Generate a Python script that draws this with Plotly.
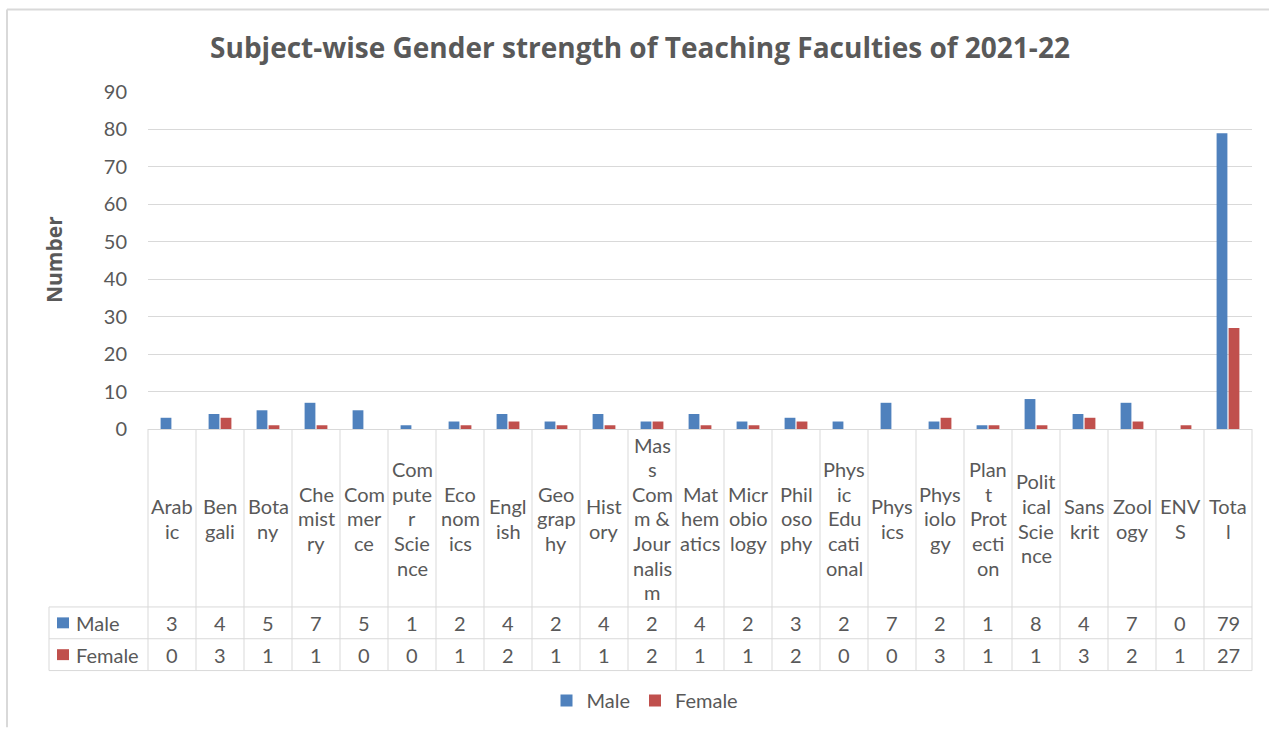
import plotly.graph_objects as go

categories = ["Arabic", "Bengali", "Botany", "Chemistry", "Commerce", "Computer Science",
              "Economics", "English", "Geography", "History", "Mass Comm & Journalism",
              "Mathematics", "Microbiology", "Philosophy", "Physic Educational", "Physics",
              "Physiology", "Plant Protection", "Political Science", "Sanskrit", "Zoology",
              "ENVS", "Total"]
wrapped_labels = [
    ["Arab", "ic"], ["Ben", "gali"], ["Bota", "ny"], ["Che", "mist", "ry"],
    ["Com", "mer", "ce"], ["Com", "pute", "r", "Scie", "nce"], ["Eco", "nom", "ics"],
    ["Engl", "ish"], ["Geo", "grap", "hy"], ["Hist", "ory"],
    ["Mas", "s", "Com", "m &", "Jour", "nalis", "m"], ["Mat", "hem", "atics"],
    ["Micr", "obio", "logy"], ["Phil", "oso", "phy"], ["Phys", "ic", "Edu", "cati", "onal"],
    ["Phys", "ics"], ["Phys", "iolo", "gy"], ["Plan", "t", "Prot", "ecti", "on"],
    ["Polit", "ical", "Scie", "nce"], ["Sans", "krit"], ["Zool", "ogy"], ["ENV", "S"],
    ["Tota", "l"],
]
male = [3, 4, 5, 7, 5, 1, 2, 4, 2, 4, 2, 4, 2, 3, 2, 7, 2, 1, 8, 4, 7, 0, 79]
female = [0, 3, 1, 1, 0, 0, 1, 2, 1, 1, 2, 1, 1, 2, 0, 0, 3, 1, 1, 3, 2, 1, 27]
y_ticks = [0, 10, 20, 30, 40, 50, 60, 70, 80, 90]

BLUE = "#4F81BD"
RED = "#C0504D"
TXT = "#595959"
GRID = "#D9D9D9"
FONT = "Lato, 'Open Sans', sans-serif"
FS = 20

W, H = 1269, 731
L, R, T, B = 148, 1252, 92, 431  # plot area in pixels


def px(x):
    return (x - L) / (R - L)


def py(y):
    return (B - y) / (B - T)


n = len(categories)
col_w = (R - L) / n

fig = go.Figure()
fig.add_trace(go.Bar(name="Male", x=categories, y=male, marker_color=BLUE,
                     marker_line_width=0))
fig.add_trace(go.Bar(name="Female", x=categories, y=female, marker_color=RED,
                     marker_line_width=0))

shapes = []
annotations = []
line = dict(color=GRID, width=1)

# table horizontal lines
for yy in (610, 642, 674):
    shapes.append(dict(type="line", xref="paper", yref="paper", x0=px(49), x1=px(R),
                       y0=py(yy), y1=py(yy), line=line))
# table vertical lines
for k in range(n + 1):
    xx = L + k * col_w
    shapes.append(dict(type="line", xref="paper", yref="paper", x0=px(xx), x1=px(xx),
                       y0=py(B), y1=py(674), line=line))
shapes.append(dict(type="line", xref="paper", yref="paper", x0=px(49), x1=px(49),
                   y0=py(610), y1=py(674), line=line))
# chart border (left and top)
shapes.append(dict(type="line", xref="paper", yref="paper", x0=px(7), x1=px(7),
                   y0=py(9), y1=py(731), line=dict(color=GRID, width=2)))
shapes.append(dict(type="line", xref="paper", yref="paper", x0=px(7), x1=px(1269),
                   y0=py(9), y1=py(9), line=dict(color=GRID, width=2)))

# category labels
for i, lines in enumerate(wrapped_labels):
    m = len(lines)
    for j, s in enumerate(lines):
        yy = 521 + (j - (m - 1) / 2) * 24.8
        annotations.append(dict(x=categories[i], xref="x", y=py(yy), yref="paper",
                                text=s, showarrow=False, xanchor="center", yanchor="middle",
                                font=dict(family=FONT, size=FS, color=TXT)))
# table values
for i in range(n):
    annotations.append(dict(x=categories[i], xref="x", y=py(626), yref="paper",
                            text=str(male[i]), showarrow=False, xanchor="center",
                            yanchor="middle", font=dict(family=FONT, size=FS, color=TXT)))
    annotations.append(dict(x=categories[i], xref="x", y=py(658), yref="paper",
                            text=str(female[i]), showarrow=False, xanchor="center",
                            yanchor="middle", font=dict(family=FONT, size=FS, color=TXT)))
# row keys
for yy, col, name in ((626, BLUE, "Male"), (658, RED, "Female")):
    shapes.append(dict(type="rect", xref="paper", yref="paper", x0=px(57), x1=px(69),
                       y0=py(yy - 5.5), y1=py(yy + 5.5), fillcolor=col, line=dict(width=0)))
    annotations.append(dict(x=px(74), xref="paper", y=py(yy), yref="paper", text=name,
                            showarrow=False, xanchor="left", yanchor="middle",
                            font=dict(family=FONT, size=FS, color=TXT)))

# y-axis title
annotations.append(dict(x=px(54), xref="paper", y=py(261), yref="paper", text="<b>Number</b>",
                        textangle=-90, showarrow=False, xanchor="center", yanchor="middle",
                        font=dict(family="'Open Sans', sans-serif", size=21, color=TXT)))

fig.update_layout(
    width=W, height=H,
    margin=dict(l=L, r=W - R, t=T, b=H - B, pad=0),
    paper_bgcolor="white", plot_bgcolor="white",
    title=dict(text="<b>Subject-wise Gender strength of Teaching Faculties of 2021-22</b>",
               x=px(640), xref="paper", xanchor="center", y=1 - 48 / H, yanchor="middle",
               font=dict(family="'Open Sans', sans-serif", size=28, color=TXT)),
    barmode="group", bargap=0.5, bargroupgap=0.1,
    xaxis=dict(showticklabels=False, showgrid=False, range=[-0.5, n - 0.5],
               showline=True, linecolor=GRID, linewidth=1, ticks="", fixedrange=True),
    yaxis=dict(range=[0, 90], tickvals=y_ticks, showgrid=True, gridcolor=GRID, gridwidth=1,
               zeroline=False, showline=False, ticks="", ticklabelstandoff=20,
               tickfont=dict(family=FONT, size=FS, color=TXT)),
    legend=dict(orientation="h", x=px(645), xanchor="center", y=py(704), yanchor="middle",
                font=dict(family=FONT, size=FS, color=TXT), itemwidth=30,
                traceorder="normal"),
    shapes=shapes, annotations=annotations,
)

fig.write_html("out.html", config={"displayModeBar": False},
               post_script="document.body.style.margin='0';document.body.style.overflow='hidden';")
